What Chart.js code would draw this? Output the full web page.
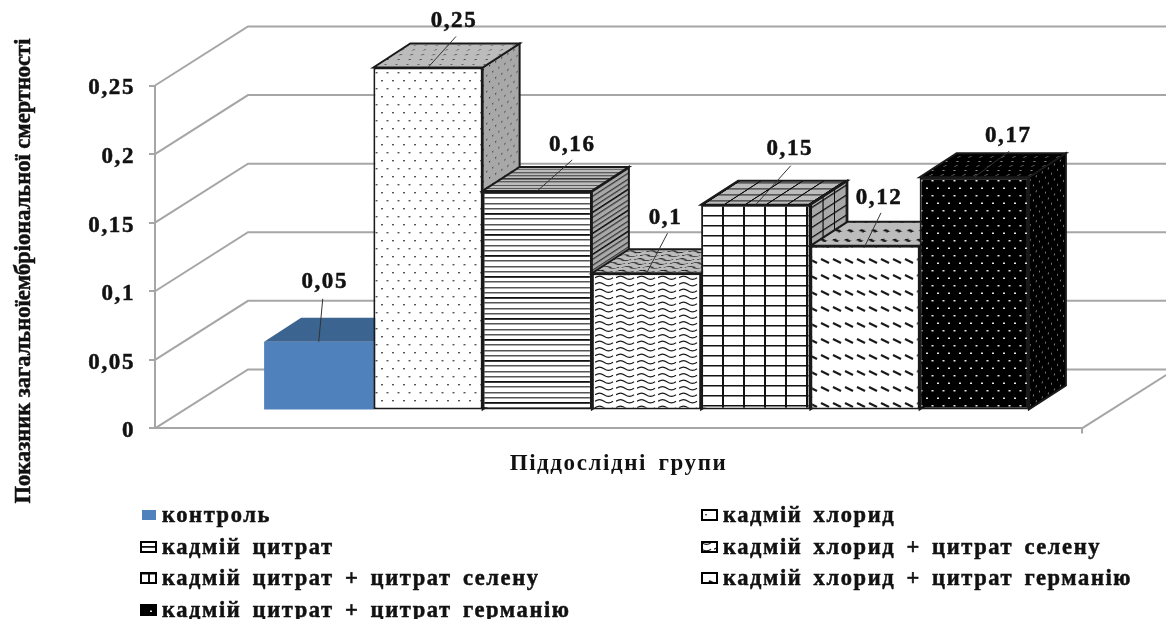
<!DOCTYPE html>
<html>
<head>
<meta charset="utf-8">
<style>
    html, body { margin: 0; padding: 0; background: #fff; }
    canvas { display: block; }
</style>
<script src="https://cdn.jsdelivr.net/npm/chart.js@4"></script>
</head>
<body>
<canvas id="mortality-chart" width="1166" height="619"></canvas>
<script>
const groupLabels = ['контроль', 'кадмій хлорид', 'кадмій цитрат', 'кадмій хлорид + цитрат селену',
    'кадмій цитрат + цитрат селену', 'кадмій хлорид + цитрат германію', 'кадмій цитрат + цитрат германію'];
const groupValues = [0.05, 0.25, 0.16, 0.1, 0.15, 0.12, 0.17];
const groupFills = ['solid', 'dots', 'lines', 'waves', 'grid', 'dashes', 'night'];
const yTickStep = 0.05;
const yMax = 0.25;
const yAxisTitle = 'Показник загальноїембріональної смертності';
const xAxisTitle = 'Піддослідні групи';

// depth of the box around the plot and of each column, in px
const wallDepth = { x: 93, y: 59 };
const barShift = { x: 28, y: 18 };
const barDepth = { x: 37, y: 24 };

const gridColor = '#a6a6a6';
const inkColor = '#1a1a1a';
const serifBold = '"Liberation Serif", "Times New Roman", serif';

function commaNumber(value) {
    return String(+value.toFixed(2)).replace('.', ',');
}

function setTextSpacing(ctx) {
    ctx.letterSpacing = '1.6px';
    ctx.wordSpacing = '4px';
}

// Builds a repeating tile for one hatch style
function makeTile(name) {
    const sizes = { dots: [11, 16], lines: [16, 21], waves: [21, 13], grid: [21, 20], dashes: [12, 16], night: [11, 15] };
    const tile = document.createElement('canvas');
    tile.width = sizes[name][0];
    tile.height = sizes[name][1];
    const c = tile.getContext('2d');
    c.fillStyle = name === 'night' ? '#000' : '#fff';
    c.fillRect(0, 0, tile.width, tile.height);
    c.strokeStyle = inkColor;
    c.fillStyle = '#555';

    if (name === 'dots') {
        c.fillRect(1, 2, 2, 1.4);
        c.fillRect(6.5, 10, 2, 1.4);
    } else if (name === 'lines') {
        c.fillStyle = '#555';
        c.fillRect(0, 5, 16, 1.5);
        c.fillRect(0, 11, 16, 1.5);
        c.fillRect(0, 16, 16, 1.5);
        c.fillStyle = '#111';
        c.fillRect(0, 0, 16, 1.8);
    } else if (name === 'waves') {
        c.lineWidth = 1.2;
        [3.2, 9.7].forEach(y => {
            c.beginPath();
            c.moveTo(0, y);
            c.bezierCurveTo(3, y - 2.2, 6, y - 2.2, 9, y);
            c.bezierCurveTo(12, y + 2.2, 15, y + 2.2, 18, y);
            c.stroke();
        });
    } else if (name === 'grid') {
        c.fillStyle = '#111';
        c.fillRect(1, 0, 2, 20);
        c.fillRect(0, 3, 21, 1.5);
        c.fillRect(0, 13, 21, 1.5);
    } else if (name === 'dashes') {
        c.lineWidth = 2.2;
        c.beginPath();
        c.moveTo(1, 5);
        c.lineTo(9, 9);
        c.stroke();
    } else if (name === 'night') {
        c.fillStyle = '#e8e8e8';
        c.fillRect(1.5, 3, 2, 1.5);
        c.fillRect(7, 10.5, 2, 1.5);
    }
    return c.createPattern(tile, 'repeat');
}

const patterns = {};
groupFills.forEach(name => {
    if (name !== 'solid') patterns[name] = makeTile(name);
});

// Fills a face of a column: the hatch is skewed along the face and then darkened
function fillFace(ctx, corners, matrix, name, shade, solidShade) {
    ctx.save();
    ctx.beginPath();
    corners.forEach((p, i) => i ? ctx.lineTo(p[0], p[1]) : ctx.moveTo(p[0], p[1]));
    ctx.closePath();
    if (name === 'solid') {
        ctx.fillStyle = solidShade;
        ctx.fill();
        ctx.restore();
        return;
    }
    ctx.strokeStyle = inkColor;
    ctx.lineWidth = 2;
    ctx.save();
    ctx.clip();
    ctx.transform(...matrix);
    ctx.fillStyle = patterns[name];
    ctx.fillRect(-300, -500, 800, 900);
    ctx.restore();
    ctx.globalCompositeOperation = 'multiply';
    ctx.fillStyle = shade;
    ctx.fill();
    ctx.globalCompositeOperation = 'source-over';
    ctx.stroke();
    ctx.restore();
}

function drawColumn(chart, index) {
    const { ctx } = chart;
    const meta = chart.getDatasetMeta(index);
    const bar = meta.data[0];
    const name = groupFills[index];
    const left = bar.x - bar.width / 2;
    const right = bar.x + bar.width / 2;
    const dx = barDepth.x;
    const dy = barDepth.y;

    // columns stand on the floor, so the front face is shifted back
    ctx.save();
    ctx.translate(barShift.x, -barShift.y);
    meta.controller.draw();
    fillFace(ctx,
        [[right, bar.y], [right + dx, bar.y - dy], [right + dx, bar.base - dy], [right, bar.base]],
        [0.55, -0.55 * dy / dx, 0, 1, right, bar.y],
        name, '#a8a8a8', '#3b6590');
    fillFace(ctx,
        [[left, bar.y], [left + dx, bar.y - dy], [right + dx, bar.y - dy], [right, bar.y]],
        [1, 0, -dx / dy * 0.6, 0.6, left, bar.y],
        name, '#bcbcbc', '#3b6590');
    ctx.restore();
}

// Bold text with a thin outline so it reads heavier
function heavyText(ctx, text, x, y) {
    ctx.strokeStyle = '#111';
    ctx.lineWidth = 0.5;
    ctx.strokeText(text, x, y);
    ctx.fillStyle = '#111';
    ctx.fillText(text, x, y);
}

const boxPlugin = {
    id: 'box3d',

    beforeLayout(chart) {
        setTextSpacing(chart.ctx);
    },

    // the bold digits sit a little high on their tick marks
    afterUpdate(chart, args, opts) {
        chart.scales.y.getLabelItems(chart.chartArea).forEach(item => {
            item.options.translation[1] += opts.tickLabelDrop;
        });
    },

    beforeDraw(chart) {
        setTextSpacing(chart.ctx);
    },

    // walls and floor behind the columns, then the columns from left to right
    // so that each one overlaps the side face of the one before it
    beforeDatasetsDraw(chart) {
        const { ctx, chartArea, scales } = chart;
        ctx.save();
        ctx.strokeStyle = gridColor;
        ctx.lineWidth = 2;
        scales.y.ticks.forEach(tick => {
            const py = scales.y.getPixelForValue(tick.value);
            ctx.beginPath();
            ctx.moveTo(chartArea.left, py);
            ctx.lineTo(chartArea.left + wallDepth.x, py - wallDepth.y);
            ctx.lineTo(chart.width, py - wallDepth.y);
            ctx.stroke();
        });
        ctx.beginPath();
        ctx.moveTo(chartArea.right, chartArea.bottom + 5);
        ctx.lineTo(chartArea.right, chartArea.bottom);
        ctx.lineTo(chartArea.right + wallDepth.x, chartArea.bottom - wallDepth.y);
        ctx.stroke();
        ctx.restore();

        groupValues.forEach((value, i) => drawColumn(chart, i));
        return false;
    },

    afterDraw(chart, args, opts) {
        const { ctx } = chart;
        ctx.save();

        // value labels with their leader lines
        ctx.textAlign = 'center';
        ctx.textBaseline = 'middle';
        ctx.font = 'bold 23px ' + serifBold;
        groupValues.forEach((value, i) => {
            const bar = chart.getDatasetMeta(i).data[0];
            const x = bar.x + barShift.x;
            const y = bar.y - barShift.y;
            const shift = opts.labelShift[i];
            ctx.strokeStyle = '#333';
            ctx.lineWidth = 1;
            ctx.beginPath();
            ctx.moveTo(x, y);
            ctx.lineTo(x + shift[0], y + shift[1]);
            ctx.stroke();
            heavyText(ctx, commaNumber(value), x + shift[2], y + shift[3]);
        });

        // rotated y title sits lower than the axis centre
        ctx.save();
        ctx.translate(opts.yTitleAt[0], opts.yTitleAt[1]);
        ctx.rotate(-Math.PI / 2);
        ctx.font = 'bold 22.5px ' + serifBold;
        ctx.letterSpacing = '0px';
        ctx.wordSpacing = '0px';
        heavyText(ctx, yAxisTitle, 0, 0);
        ctx.restore();

        // two column legend, filled row by row
        ctx.textAlign = 'left';
        ctx.font = 'bold 22.5px ' + serifBold;
        groupLabels.forEach((label, i) => {
            const col = i % 2;
            const row = Math.floor(i / 2);
            const boxX = opts.legendColumns[col];
            const y = opts.legendRows[row];
            const name = groupFills[i];
            if (name === 'solid') {
                ctx.fillStyle = chart.data.datasets[i].backgroundColor;
                ctx.fillRect(boxX + 1, y - 5, 14, 10);
            } else {
                ctx.fillStyle = patterns[name];
                ctx.fillRect(boxX, y - 5, 15, 10);
                ctx.strokeStyle = '#000';
                ctx.lineWidth = 2;
                ctx.strokeRect(boxX, y - 5, 15, 10);
            }
            heavyText(ctx, label, boxX + 21, y + 1);
        });
        ctx.restore();
    }
};

new Chart('mortality-chart', {
    type: 'bar',
    data: {
        labels: [xAxisTitle],
        datasets: groupLabels.map((label, i) => ({
            label: label,
            data: [groupValues[i]],
            backgroundColor: groupFills[i] === 'solid' ? '#4f81bd' : patterns[groupFills[i]],
            borderColor: groupFills[i] === 'solid' ? '#4f81bd' : inkColor,
            borderWidth: groupFills[i] === 'solid' ? 0 : 2,
            borderSkipped: false
        }))
    },
    plugins: [boxPlugin],
    options: {
        responsive: false,
        animation: false,
        categoryPercentage: 0.825,
        barPercentage: 1,
        layout: { padding: { left: 75, top: 85.5, right: 84, bottom: 141 } },
        scales: {
            x: {
                grid: { drawOnChartArea: false, drawTicks: false },
                border: { color: gridColor, width: 2 },
                ticks: { display: false },
                title: {
                    display: true,
                    text: xAxisTitle,
                    color: '#111',
                    font: { family: serifBold, size: 23, weight: 'bold' },
                    padding: { top: 22, bottom: 0 }
                }
            },
            y: {
                min: 0,
                max: yMax,
                afterFit: scale => { scale.width = 80; },
                grid: { drawOnChartArea: false, color: gridColor, lineWidth: 2, tickLength: 6 },
                border: { color: gridColor, width: 2 },
                ticks: {
                    stepSize: yTickStep,
                    padding: 14,
                    color: '#111',
                    textStrokeColor: '#111',
                    textStrokeWidth: 0.5,
                    font: { family: serifBold, size: 23, weight: 'bold' },
                    callback: value => commaNumber(value)
                }
            }
        },
        plugins: {
            legend: { display: false },
            tooltip: { enabled: false },
            box3d: {
                // leader end dx, dy and label centre dx, dy from the top of each front face
                labelShift: [
                    [4, -43, 6, -60],
                    [28, -31, 26, -46],
                    [35, -31, 35, -46],
                    [21, -40, 19, -55],
                    [35, -39, 34, -56],
                    [16, -33, 14, -48],
                    [35, -26, 34, -41]
                ],
                tickLabelDrop: 3,
                yTitleAt: [24, 271],
                legendColumns: [141, 702],
                legendRows: [515, 547, 578, 610]
            }
        }
    }
});
</script>
</body>
</html>
